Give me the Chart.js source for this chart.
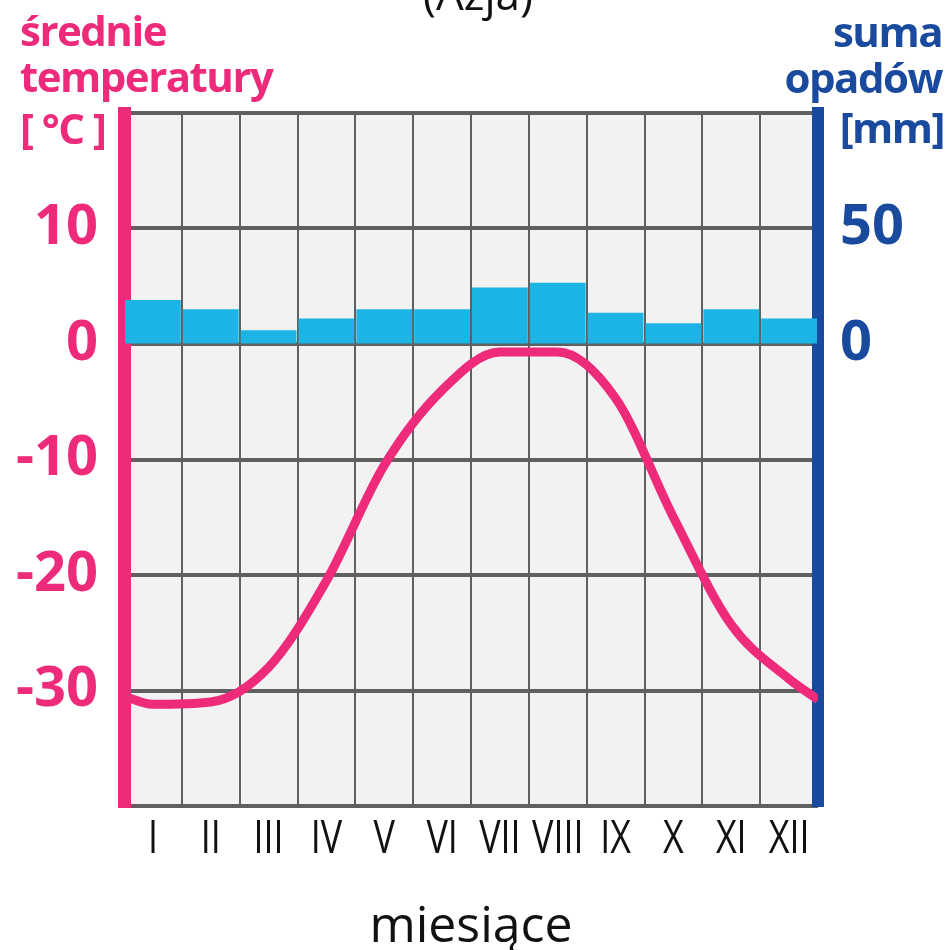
<!DOCTYPE html>
<html>
<head>
<meta charset="utf-8">
<script src="https://cdn.jsdelivr.net/npm/chart.js@4.4.1/dist/chart.umd.min.js"></script>
<style>
    html, body { margin: 0; padding: 0; background: #fff; }
    #ClimateChart { display: block; }
</style>
</head>
<body>
<canvas id="ClimateChart" width="948" height="950"></canvas>
<script>
// months on the x axis
var months = ['I', 'II', 'III', 'IV', 'V', 'VI', 'VII', 'VIII', 'IX', 'X', 'XI', 'XII'];

// monthly precipitation [mm]
var precipitation = [19, 15, 6, 11, 15, 15, 24.5, 26.5, 13.5, 9, 15, 11];

// monthly mean temperature [°C]
var temperature = [-31.2, -31, -28, -20.5, -10.5, -4, -0.7, -0.7, -4.7, -15, -24.3, -29];
// where the curve meets the left and right axis
var temperatureStart = -30.5;
var temperatureEnd = -30.8;

// labelled ticks
var temperatureTicks = [10, 0, -10, -20, -30];
var precipitationTicks = [50, 0];

var pink = '#ee2a7b';
var blue = '#194a9e';
var gridColor = '#606060';

var temperaturePoints = [{ x: 0, y: temperatureStart }]
    .concat(temperature.map(function (t, i) { return { x: i + 0.5, y: t }; }))
    .concat([{ x: months.length, y: temperatureEnd }]);

// grey plot background
var plotBackground = {
    id: 'plotBackground',
    beforeDraw: function (chart) {
        var ctx = chart.ctx;
        var a = chart.chartArea;
        ctx.save();
        ctx.fillStyle = '#f2f2f2';
        ctx.fillRect(a.left, a.top, a.right - a.left, a.bottom - a.top);
        ctx.restore();
    }
};

// narrow month numerals under each category of the x scale
var monthLabels = {
    id: 'monthLabels',
    afterDraw: function (chart) {
        var ctx = chart.ctx;
        var xScale = chart.scales.x;
        ctx.save();
        ctx.fillStyle = '#111';
        ctx.textAlign = 'center';
        ctx.textBaseline = 'alphabetic';
        ctx.font = '46px "Open Sans"';
        months.forEach(function (m, i) {
            ctx.save();
            ctx.translate(xScale.getPixelForTick(i), 853);
            ctx.scale(0.78, 1);
            ctx.fillText(m, 0, 0);
            ctx.restore();
        });
        ctx.restore();
    }
};

// axis captions in the corners and the cut-off title
var captions = {
    id: 'captions',
    afterDraw: function (chart) {
        var ctx = chart.ctx;
        ctx.save();
        ctx.letterSpacing = '-1.5px';
        ctx.font = 'bold 42px "Open Sans"';
        ctx.textBaseline = 'alphabetic';

        ctx.fillStyle = pink;
        ctx.textAlign = 'left';
        ctx.fillText('średnie', 20, 46);
        ctx.fillText('temperatury', 20, 92);
        ctx.fillText('[ °C ]', 20, 144);

        ctx.fillStyle = blue;
        ctx.textAlign = 'right';
        ctx.fillText('suma', 942, 47);
        ctx.fillText('opadów', 942, 93);
        ctx.fillText('[mm]', 944, 143);

        ctx.letterSpacing = '0px';
        ctx.fillStyle = '#111';
        ctx.textAlign = 'center';
        ctx.font = '44px "Open Sans"';
        ctx.fillText('(Azja)', 478, 10);
        ctx.restore();
    }
};

var chart = new Chart(document.getElementById('ClimateChart'), {
    data: {
        labels: months,
        datasets: [{
            type: 'line',
            data: temperaturePoints,
            xAxisID: 'x2',
            yAxisID: 'y',
            borderColor: pink,
            borderWidth: 9,
            pointRadius: 0,
            cubicInterpolationMode: 'monotone',
            order: 0
        }, {
            type: 'bar',
            data: precipitation,
            xAxisID: 'x',
            yAxisID: 'y2',
            backgroundColor: '#1bb4e4',
            grouped: false,
            barPercentage: 0.965,
            categoryPercentage: 1,
            order: 1
        }]
    },
    options: {
        responsive: false,
        animation: false,
        devicePixelRatio: 1,
        layout: {
            padding: { top: 113, left: 0, right: 0, bottom: 0 }
        },
        plugins: {
            legend: { display: false },
            tooltip: { enabled: false }
        },
        scales: {
            x: {
                type: 'category',
                offset: true,
                grid: {
                    offset: true,
                    color: gridColor,
                    lineWidth: 2,
                    drawTicks: false
                },
                border: { display: false },
                ticks: { display: false },
                title: {
                    display: true,
                    text: 'miesiące',
                    color: '#111',
                    padding: { top: 0, bottom: -8 },
                    font: { family: '"Open Sans"', size: 50 }
                },
                afterFit: function (scale) { scale.height = 144; }
            },
            x2: {
                type: 'linear',
                min: 0,
                max: months.length,
                display: false
            },
            y: {
                position: 'left',
                min: -40,
                max: 20,
                ticks: {
                    stepSize: 10,
                    color: pink,
                    padding: 26,
                    font: { family: '"Open Sans"', size: 56, weight: 'bold' },
                    callback: function (v) { return temperatureTicks.indexOf(v) >= 0 ? String(v) : ''; }
                },
                grid: {
                    color: gridColor,
                    lineWidth: 4,
                    drawTicks: false
                },
                border: { color: pink, width: 13 },
                afterFit: function (scale) { scale.width = 124; }
            },
            y2: {
                position: 'right',
                min: -200,
                max: 100,
                ticks: {
                    stepSize: 50,
                    color: blue,
                    padding: 22,
                    font: { family: '"Open Sans"', size: 56, weight: 'bold' },
                    callback: function (v) { return precipitationTicks.indexOf(v) >= 0 ? String(v) : ''; }
                },
                grid: { drawOnChartArea: false, drawTicks: false },
                border: { color: blue, width: 12 },
                afterFit: function (scale) { scale.width = 130; }
            }
        }
    },
    plugins: [plotBackground, monthLabels, captions]
});
</script>
</body>
</html>
